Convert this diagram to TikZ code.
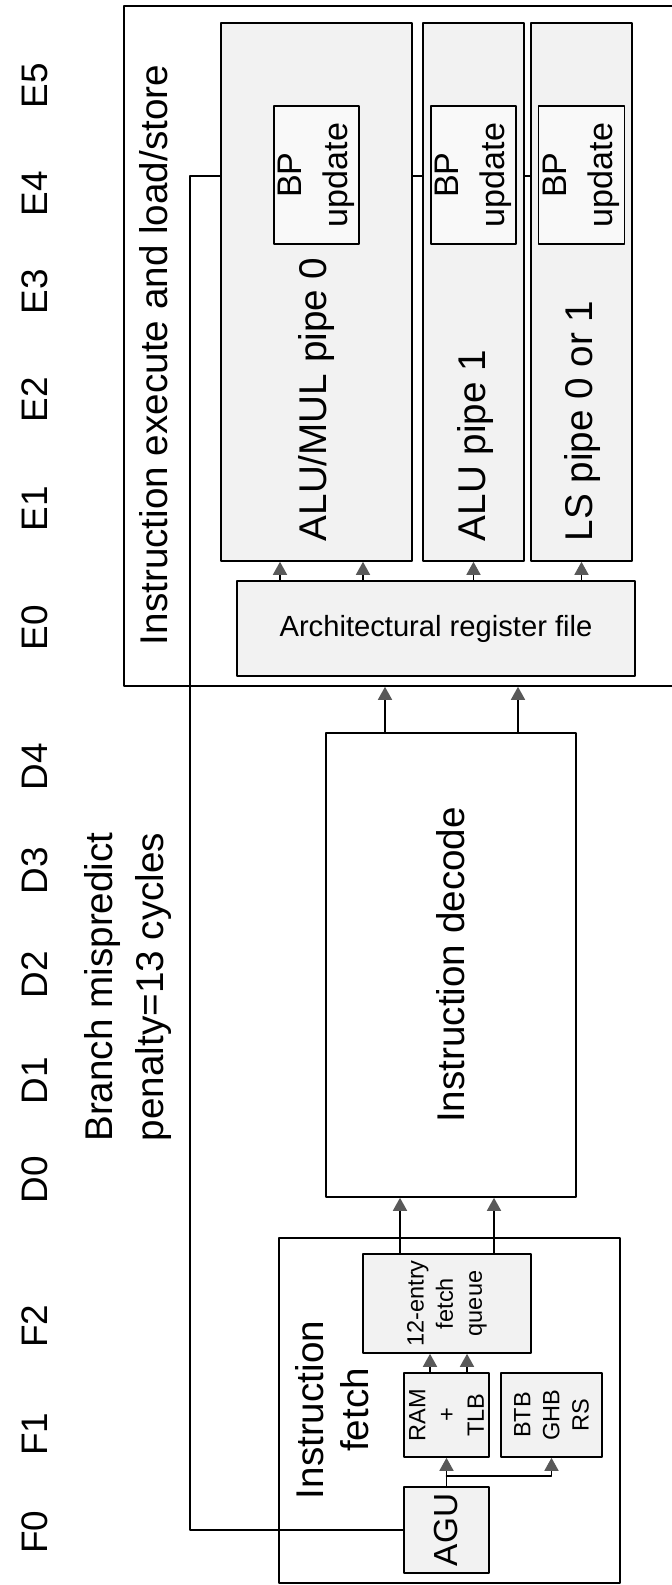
\documentclass[tikz,border=0pt]{standalone}
\usepackage{fontspec}
\setmainfont{Liberation Sans}
\usetikzlibrary{arrows.meta,calc}

\begin{document}
\begin{tikzpicture}[x=0.1mm,y=-0.1mm,line cap=round,line join=round,line width=0.45pt,
  every node/.style={inner sep=0pt},
  frm/.style={draw},
  blk/.style={draw,fill=gray!10},
  stage/.style={rotate=90,font=\fontsize{10.5}{12}\selectfont},
  big/.style={rotate=90,align=center,font=\fontsize{11}{13}\selectfont},
  small/.style={rotate=90,align=center,font=\fontsize{6.7}{8.3}\selectfont},
  arr/.style={-{Triangle[length=1.3mm,width=1.4mm,color=black!65]}}]
  % Pipeline drawn rotated: stages run from F0 at the bottom to E5 at the top.
  \useasboundingbox (0,0) rectangle (671,1585);

  \foreach \s/\yy in {E5/86,E4/194,E3/292,E2/400,E1/509,E0/628,D4/767,D3/871,
                      D2/975,D1/1081,D0/1180,F2/1326,F1/1434,F0/1532}
    \node[stage] (st\s) at (34.5,\yy) {\s};

  % execute and load/store
  \node[frm,minimum width=59.6mm,minimum height=68mm] (exec) at (422,346) {};
  \node[big] (exectxt) at (154,355) {Instruction execute and load/store};
  \node[blk,minimum width=19.1mm,minimum height=53.8mm] (pipe0) at (316.5,292) {};
  \node[blk,minimum width=10.1mm,minimum height=53.8mm] (pipe1) at (473.5,292) {};
  \node[blk,minimum width=10.1mm,minimum height=53.8mm] (pipeLS) at (581.5,292) {};
  \node[blk,fill=gray!5,minimum width=8.5mm,minimum height=13.8mm] (bp0) at (316.5,175) {};
  \node[blk,fill=gray!5,minimum width=8.5mm,minimum height=13.8mm] (bp1) at (473.5,175) {};
  \node[blk,fill=gray!5,minimum width=8.6mm,minimum height=13.8mm] (bpLS) at (581.5,175) {};
  \node[big,font=\fontsize{9.7}{13.2}\selectfont] at (bp0) {BP\\update};
  \node[big,font=\fontsize{9.7}{13.2}\selectfont] at (bp1) {BP\\update};
  \node[big,font=\fontsize{9.7}{13.2}\selectfont] at (bpLS) {BP\\update};
  \node[big,anchor=mid west] (pipe0txt) at (317,542) {ALU/MUL pipe 0};
  \node[big,anchor=mid west] (pipe1txt) at (476,542) {ALU pipe 1};
  \node[big,anchor=mid west] (pipeLStxt) at (583,542) {LS pipe 0 or 1};
  \node[blk,minimum width=39.8mm,minimum height=9.5mm,
        font=\fontsize{8.3}{10}\selectfont] (regf) at (436,628.5) {Architectural register file};

  % decode
  \node[big,font=\fontsize{11}{14.5}\selectfont] (bmp) at (128,987) {Branch mispredict\\penalty=13 cycles};
  \node[frm,minimum width=25mm,minimum height=46.4mm] (dec) at (451,965) {};
  \node[big] at (dec) {Instruction decode};

  % fetch
  \node[frm,minimum width=34.1mm,minimum height=34.5mm] (fetch) at (449.5,1410.5) {};
  \node[big,font=\fontsize{11}{12.8}\selectfont] (fetchtxt) at (332,1410) {Instruction\\fetch};
  \node[blk,minimum width=16.8mm,minimum height=9.9mm] (queue) at (447,1303.5) {};
  \node[small] at (queue) {12-entry\\fetch\\queue};
  \node[blk,minimum width=8.5mm,minimum height=8.4mm] (ram) at (446.5,1415) {};
  \node[small] at (ram) {RAM\\+\\TLB};
  \node[blk,minimum width=10.1mm,minimum height=8.4mm] (btb) at (551.5,1415) {};
  \node[small] at (btb) {BTB\\GHB\\RS};
  \node[blk,minimum width=8.5mm,minimum height=8.6mm,rotate=0] (agu) at (446.5,1530) {};
  \node[big,font=\fontsize{9.5}{11}\selectfont] at (agu) {AGU};

  \coordinate (split) at ($(agu.north)+(0,-10)$);
  \coordinate (fbk) at (190,176);

  \draw[arr] (agu.north) -- (ram.south);
  \draw[arr] (split) -| (btb.south);
  \draw[arr] ([xshift=-1.65mm]ram.north) -- ([xshift=-1.65mm]ram.north |- queue.south);
  \draw[arr] ([xshift=2.05mm]ram.north) -- ([xshift=2.05mm]ram.north |- queue.south);
  \draw[arr] ([xshift=-4.7mm]queue.north) -- ([xshift=-4.7mm]queue.north |- dec.south);
  \draw[arr] ([xshift=4.7mm]queue.north) -- ([xshift=4.7mm]queue.north |- dec.south);
  \draw[arr] ([xshift=-6.6mm]dec.north) -- ([xshift=-6.6mm]dec.north |- exec.south);
  \draw[arr] ([xshift=6.7mm]dec.north) -- ([xshift=6.7mm]dec.north |- exec.south);
  \draw[arr] ([xshift=-3.65mm]pipe0.south |- regf.north) -- ([xshift=-3.65mm]pipe0.south);
  \draw[arr] ([xshift=4.65mm]pipe0.south |- regf.north) -- ([xshift=4.65mm]pipe0.south);
  \draw[arr] (pipe1.south |- regf.north) -- (pipe1.south);
  \draw[arr] (pipeLS.south |- regf.north) -- (pipeLS.south);

  % mispredict path back to the AGU
  \draw (agu.west) -| (fbk) -- (pipe0.west |- fbk);
  \draw (pipe0.east |- fbk) -- (pipe1.west |- fbk);
  \draw (pipe1.east |- fbk) -- (pipeLS.west |- fbk);
\end{tikzpicture}
\end{document}
